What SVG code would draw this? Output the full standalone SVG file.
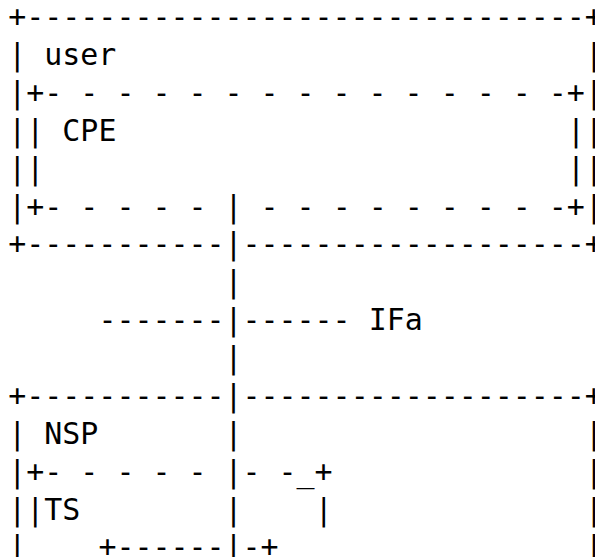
<svg xmlns="http://www.w3.org/2000/svg" width="595" height="557" viewBox="0 0 595 557" xml:space="preserve">
<style>
.t { font-family: "DejaVu Sans Mono", "Liberation Mono", monospace; font-size: 29.93px; fill: #000; white-space: pre; }
</style>
<rect x="0" y="0" width="595" height="557" fill="#fff"/>
<g id="user" class="t">
<text x="8.3" y="27.1">+-------------------------------+</text>
<text x="8.3" y="64.98">|</text><text x="44.34" y="64.98">user</text><text x="584.94" y="64.98">|</text>
<text x="8.3" y="102.86">|</text><text x="584.94" y="102.86">|</text>
<text x="8.3" y="140.74">|</text><text x="584.94" y="140.74">|</text>
<text x="8.3" y="178.62">|</text><text x="584.94" y="178.62">|</text>
<text x="8.3" y="216.5">|</text><text x="584.94" y="216.5">|</text>
<text x="8.3" y="254.38">+-----------</text><text x="242.56" y="254.38">-------------------+</text>
</g>
<g id="cpe" class="t">
<text x="26.32" y="102.86">+- - - - - - - - - - - - - - -+</text>
<text x="26.32" y="140.74">|</text><text x="62.36" y="140.74">CPE</text><text x="566.92" y="140.74">|</text>
<text x="26.32" y="178.62">|</text><text x="566.92" y="178.62">|</text>
<text x="26.32" y="216.5">+- - - - -</text><text x="260.58" y="216.5">- - - - - - - - -+</text>
</g>
<g id="nsp" class="t">
<text x="8.3" y="405.9">+-----------</text><text x="242.56" y="405.9">-------------------+</text>
<text x="8.3" y="443.78">|</text><text x="44.34" y="443.78">NSP</text><text x="584.94" y="443.78">|</text>
<text x="8.3" y="481.66">|</text><text x="584.94" y="481.66">|</text>
<text x="8.3" y="519.54">|</text><text x="584.94" y="519.54">|</text>
<text x="8.3" y="557.42">|</text><text x="584.94" y="557.42">|</text>
</g>
<g id="ts" class="t">
<text x="26.32" y="481.66">+- - - - -</text><text x="242.56" y="481.66">- -_+</text>
<text x="26.32" y="519.54">|</text><text x="44.34" y="519.54">TS</text><text x="314.64" y="519.54">|</text>
<text x="98.4" y="557.42">+------</text><text x="242.56" y="557.42">-+</text>
</g>
<g id="connectors" class="t">
<text x="224.54" y="216.5">|</text>
<text x="224.54" y="254.38">|</text>
<text x="224.54" y="292.26">|</text>
<text x="98.4" y="330.14">-------|------</text>
<text x="224.54" y="368.02">|</text>
<text x="224.54" y="405.9">|</text>
<text x="224.54" y="443.78">|</text>
<text x="224.54" y="481.66">|</text>
<text x="224.54" y="519.54">|</text>
<text x="224.54" y="557.42">|</text>
</g>
<g id="label-ifa" class="t">
<text x="368.7" y="330.14">IFa</text>
</g>
</svg>
